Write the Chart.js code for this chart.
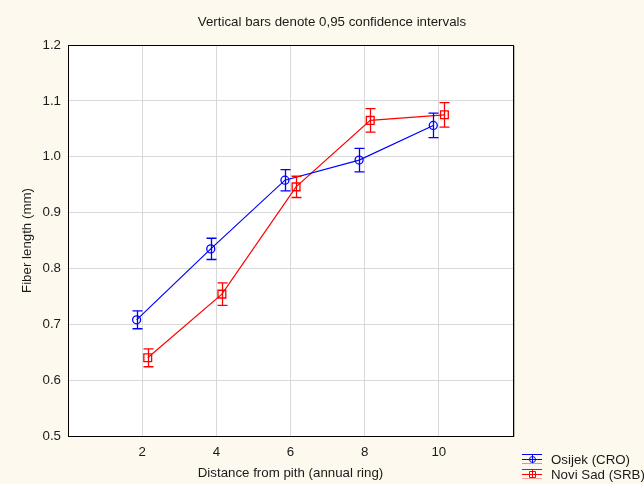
<!DOCTYPE html>
<html>
<head>
<meta charset="utf-8">
<script src="https://cdn.jsdelivr.net/npm/chart.js@4"></script>
<style>
  html, body { margin: 0; padding: 0; background: #fdf9ee; }
  #wrap { width: 644px; height: 484px; }
</style>
</head>
<body>
<div id="wrap"><canvas id="c" width="644" height="484"></canvas></div>
<script>
// ---- data ----
const rings = [2, 4, 6, 8, 10];
const seriesNames = ['Osijek (CRO)', 'Novi Sad (SRB)'];
const osijekMean = [0.708, 0.835, 0.958, 0.994, 1.056];
const osijekCI   = [0.016, 0.019, 0.019, 0.021, 0.022];
const noviSadMean = [0.640, 0.754, 0.946, 1.065, 1.075];
const noviSadCI   = [0.016, 0.020, 0.019, 0.021, 0.022];
const yTicks = [0.5, 0.6, 0.7, 0.8, 0.9, 1.0, 1.1, 1.2];
const xTickLabels = [2, 4, 6, 8, 10];
const titleText = 'Vertical bars denote 0,95 confidence intervals';
const xTitle = 'Distance from pith (annual ring)';
const yTitle = 'Fiber length (mm)';

// small horizontal dodge so the two series do not overlap
const DODGE = 0.15;
const FONT = "'Liberation Sans', Arial, sans-serif";
const FS = 13.3;
const TXT = '#1a1a1a';
const BLUE = '#0000ff';
const RED = '#ff0000';

function pts(means, cis, shift) {
  return rings.map((r, i) => ({ x: r + shift, y: means[i], ci: cis[i] }));
}

const errorBars = {
  id: 'errorBars',
  afterDatasetsDraw(chart) {
    const ctx = chart.ctx;
    const ys = chart.scales.y, xs = chart.scales.x;
    chart.data.datasets.forEach((ds) => {
      ctx.save();
      ctx.strokeStyle = ds.borderColor;
      ctx.lineWidth = 1.3;
      ds.data.forEach((p) => {
        const px = Math.round(xs.getPixelForValue(p.x)) + 0.5;
        const top = ys.getPixelForValue(p.y + p.ci);
        const bot = ys.getPixelForValue(p.y - p.ci);
        ctx.beginPath();
        ctx.moveTo(px, top); ctx.lineTo(px, bot);
        ctx.moveTo(px - 5, top); ctx.lineTo(px + 5, top);
        ctx.moveTo(px - 5, bot); ctx.lineTo(px + 5, bot);
        ctx.stroke();
      });
      ctx.restore();
    });
  }
};

const frame = {
  id: 'frame',
  afterDraw(chart) {
    const ctx = chart.ctx;
    const a = chart.chartArea;
    ctx.save();
    // plot frame
    ctx.strokeStyle = '#000';
    ctx.lineWidth = 1;
    ctx.strokeRect(Math.round(a.left) + 0.5, Math.round(a.top) + 0.5,
                   Math.round(a.right - a.left), Math.round(a.bottom - a.top));
    ctx.strokeStyle = 'rgba(0,0,0,0.25)';
    ctx.beginPath();
    ctx.moveTo(Math.round(a.right) + 1.5, a.top + 1);
    ctx.lineTo(Math.round(a.right) + 1.5, a.bottom + 1);
    ctx.stroke();
    // title
    ctx.fillStyle = TXT;
    ctx.font = FS + 'px ' + FONT;
    ctx.textAlign = 'center';
    ctx.textBaseline = 'middle';
    ctx.fillText(titleText, 332, 22);
    // legend
    const entries = [
      { name: seriesNames[0], color: BLUE, light: '#a0a0ff', style: 'circle', cy: 459 },
      { name: seriesNames[1], color: RED, light: '#ffa0a0', style: 'rect', cy: 474 }
    ];
    entries.forEach((e) => {
      const x0 = 522, x1 = 542, xm = 532;
      ctx.lineWidth = 1;
      ctx.strokeStyle = e.color;
      ctx.beginPath();
      ctx.moveTo(x0, e.cy - 4.5); ctx.lineTo(x1, e.cy - 4.5);
      ctx.moveTo(x0, e.cy + 0.5); ctx.lineTo(x1, e.cy + 0.5);
      ctx.moveTo(xm + 0.5, e.cy - 4.5); ctx.lineTo(xm + 0.5, e.cy + 4.5);
      ctx.stroke();
      ctx.strokeStyle = e.light;
      ctx.beginPath();
      ctx.moveTo(x0, e.cy + 4.5); ctx.lineTo(x1, e.cy + 4.5);
      ctx.stroke();
      ctx.strokeStyle = e.color;
      ctx.beginPath();
      if (e.style === 'circle') {
        ctx.arc(xm + 0.5, e.cy + 0.5, 3, 0, Math.PI * 2);
      } else {
        ctx.rect(xm - 2.5, e.cy - 2.5, 6, 6);
      }
      ctx.stroke();
      ctx.fillStyle = TXT;
      ctx.font = FS + 'px ' + FONT;
      ctx.textAlign = 'left';
      ctx.textBaseline = 'middle';
      ctx.fillText(e.name, 551, e.cy + 1);
    });
    ctx.restore();
  }
};

const bg = {
  id: 'bg',
  beforeDraw(chart) {
    const ctx = chart.ctx;
    const a = chart.chartArea;
    ctx.save();
    ctx.fillStyle = '#fdf9ee';
    ctx.fillRect(0, 0, chart.width, chart.height);
    ctx.fillStyle = '#ffffff';
    ctx.fillRect(a.left, a.top, a.right - a.left, a.bottom - a.top);
    ctx.restore();
  }
};

new Chart(document.getElementById('c'), {
  type: 'scatter',
  data: {
    datasets: [
      {
        label: seriesNames[0],
        data: pts(osijekMean, osijekCI, -DODGE),
        showLine: true,
        borderColor: BLUE,
        backgroundColor: 'rgba(0,0,0,0)',
        borderWidth: 1.2,
        pointStyle: 'circle',
        pointRadius: 4,
        pointBorderWidth: 1.3,
        pointBackgroundColor: 'rgba(0,0,0,0)'
      },
      {
        label: seriesNames[1],
        data: pts(noviSadMean, noviSadCI, DODGE),
        showLine: true,
        borderColor: RED,
        backgroundColor: 'rgba(0,0,0,0)',
        borderWidth: 1.2,
        pointStyle: 'rect',
        pointRadius: 5.5,
        pointBorderWidth: 1.3,
        pointBackgroundColor: 'rgba(0,0,0,0)'
      }
    ]
  },
  options: {
    responsive: false,
    animation: false,
    devicePixelRatio: 1,
    layout: { padding: { left: 0, top: 45, right: 131, bottom: 0 } },
    plugins: {
      legend: { display: false },
      title: { display: false },
      tooltip: { enabled: false }
    },
    scales: {
      x: {
        type: 'linear',
        min: 0, max: 12,
        afterFit(s) { s.height = 48; },
        afterBuildTicks(s) { s.ticks = [0, 2, 4, 6, 8, 10, 12].map(v => ({ value: v })); },
        ticks: {
          padding: 8,
          color: TXT,
          font: { family: FONT, size: FS },
          callback: (v) => xTickLabels.includes(v) ? String(v) : ''
        },
        grid: { color: '#d9d9d9', drawTicks: false },
        border: { display: true, color: '#000' },
        title: {
          display: true, text: xTitle, color: TXT,
          font: { family: FONT, size: FS },
          padding: { top: 0, bottom: 3 }
        }
      },
      y: {
        type: 'linear',
        min: 0.5, max: 1.2,
        afterFit(s) { s.width = 68; },
        afterBuildTicks(s) { s.ticks = yTicks.map(v => ({ value: v })); },
        ticks: {
          padding: 7,
          color: TXT,
          font: { family: FONT, size: FS },
          callback: (v) => Number(v).toFixed(1)
        },
        grid: { color: '#d9d9d9', drawTicks: false },
        border: { display: true, color: '#000' },
        title: {
          display: true, text: yTitle, color: TXT,
          font: { family: FONT, size: FS },
          padding: { top: 19, bottom: 0 }
        }
      }
    }
  },
  plugins: [bg, errorBars, frame]
});
</script>
</body>
</html>
